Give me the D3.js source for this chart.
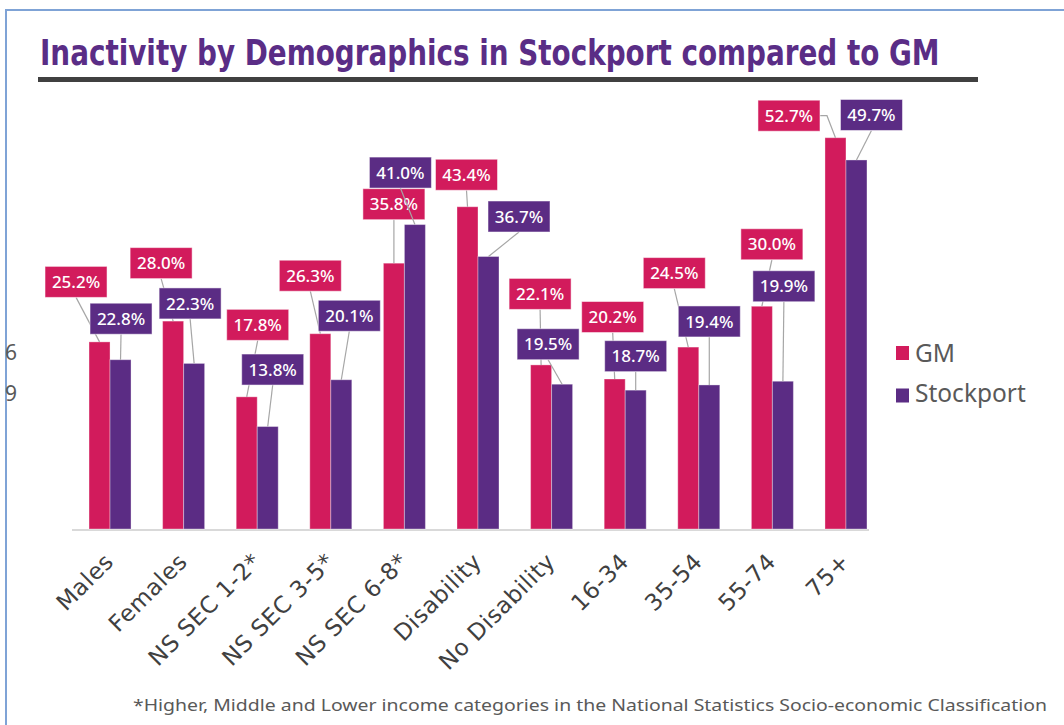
<!DOCTYPE html>
<html>
<head>
<meta charset="utf-8">
<script src="https://cdn.jsdelivr.net/npm/d3@7"></script>
<style>
  body { margin: 0; background: #ffffff; }
  svg { display: block; }
</style>
</head>
<body>
<svg id="chart" width="1064" height="725"></svg>
<script>
// data
let categories = ["Males", "Females", "NS SEC 1-2*", "NS SEC 3-5*", "NS SEC 6-8*",
  "Disability", "No Disability", "16-34", "35-54", "55-74", "75+"]
let seriesNames = ["GM", "Stockport"]
let gmValues = [25.2, 28.0, 17.8, 26.3, 35.8, 43.4, 22.1, 20.2, 24.5, 30.0, 52.7]
let stockportValues = [22.8, 22.3, 13.8, 20.1, 41.0, 36.7, 19.5, 18.7, 19.4, 19.9, 49.7]
let titleText = "Inactivity by Demographics in Stockport compared to GM"
let footnote = "*Higher, Middle and Lower income categories in the National Statistics Socio-economic Classification"

// label box offsets from the top of each bar (labels were dragged by hand in the original)
let gmLabelOffsets = [[-23.5, -60], [-12, -58], [11, -72], [-10, -58], [0, -59],
  [-1, -32], [-1, -71], [-2, -62], [-14, -74], [10, -62], [-46.5, -22]]
let stLabelOffsets = [[0.5, -41], [-4, -60], [5, -57], [8, -64], [-14.5, -52],
  [30.5, -40], [-14, -40], [0, -34], [0, -63.5], [1, -95], [15, -45]]

let gmColor = "#d21b5c"
let stColor = "#5b2c84"
let titlePurple = "#5a2d86"
let darkTextColor = "#404040"
let greyText = "#595959"

let svg = d3.select("#chart")

// outer frame
svg.append("rect")
  .attr("x", 6)
  .attr("y", 10)
  .attr("width", 1100)
  .attr("height", 800)
  .style("fill", "none")
  .style("stroke", "#7fa3d6")
  .style("stroke-width", 2)

// title, squeezed horizontally to the width of the original condensed face
let titleG = svg.append("g")
let title = titleG.append("text")
  .attr("x", 0)
  .attr("y", 0)
  .text(titleText)
  .style("font-family", "'Liberation Sans Narrow', 'DejaVu Sans Condensed', 'Roboto Condensed', Roboto, sans-serif")
  .style("font-stretch", "condensed")
  .style("font-weight", "bold")
  .style("font-size", "36px")
  .style("fill", titlePurple)
let titleScale = 900 / title.node().getComputedTextLength()
titleG.attr("transform", "translate(40, 65) scale(" + titleScale + ", 1)")

svg.append("rect")
  .attr("x", 38)
  .attr("y", 77)
  .attr("width", 940)
  .attr("height", 5)
  .style("fill", "#404040")

// stray clipped tick text at left edge of the original
svg.append("text").attr("x", 5).attr("y", 360).text("6")
  .style("font-family", "'Noto Sans', sans-serif").style("font-size", "21px").style("fill", greyText)
svg.append("text").attr("x", 5).attr("y", 401).text("9")
  .style("font-family", "'Noto Sans', sans-serif").style("font-size", "21px").style("fill", greyText)

// scales
let x = d3.scaleBand()
  .domain(categories)
  .range([73.2, 882.8])
  .paddingInner(0.4293)
  .paddingOuter(0.215)

let xSeries = d3.scaleBand()
  .domain(seriesNames)
  .range([0, x.bandwidth()])

let y = d3.scaleLinear()
  .domain([0, 60])
  .range([529, 529 - 445.5])

let color = d3.scaleOrdinal()
  .domain(seriesNames)
  .range([gmColor, stColor])

let rows = []
for (let i = 0; i < categories.length; i++) {
  rows.push({cat: categories[i], series: "GM", value: gmValues[i], off: gmLabelOffsets[i]})
  rows.push({cat: categories[i], series: "Stockport", value: stockportValues[i], off: stLabelOffsets[i]})
}

// axis line
svg.append("line")
  .attr("x1", 72)
  .attr("x2", 869)
  .attr("y1", y(0) + 1)
  .attr("y2", y(0) + 1)
  .style("stroke", "#d9d9d9")
  .style("stroke-width", 2)

// bars
svg.append("g")
  .selectAll("rect")
  .data(rows)
  .enter()
  .append("rect")
  .attr("x", d => x(d.cat) + xSeries(d.series))
  .attr("y", d => y(d.value))
  .attr("width", xSeries.bandwidth())
  .attr("height", d => y(0) - y(d.value))
  .style("fill", d => color(d.series))
  .style("stroke", "rgba(255,255,255,0.35)")
  .style("stroke-width", 1)

// x labels
svg.append("g")
  .selectAll("text")
  .data(categories)
  .enter()
  .append("text")
  .attr("transform", d => "translate(" + (x(d) + x.bandwidth() / 2 + 5) + ", 563) rotate(-45)")
  .style("text-anchor", "end")
  .text(d => d)
  .style("font-family", "'DejaVu Sans', Verdana, sans-serif")
  .style("font-size", "23px")
  .style("letter-spacing", "0.6px")
  .style("fill", darkTextColor)

// data labels with leader lines, GM first then Stockport on top
let boxW = 62
let boxH = 31
seriesNames.forEach(function(s) {
  let g = svg.append("g")
  let data = rows.filter(d => d.series == s)
  data.forEach(function(d) {
    let ax = x(d.cat) + xSeries(d.series) + xSeries.bandwidth() / 2
    let ay = y(d.value)
    let cx = ax + d.off[0]
    let cy = ay + d.off[1]
    let left = cx - boxW / 2, right = cx + boxW / 2, bottom = cy + boxH / 2
    let pts
    if (ay - bottom < Math.abs(ax - cx) - boxW / 2) {
      if (ax > right) pts = [[right, cy], [right + 7, cy], [ax, ay]]
      else pts = [[left, cy], [left - 7, cy], [ax, ay]]
    } else {
      pts = [[cx, bottom], [ax, ay]]
    }
    g.append("path")
      .attr("d", d3.line()(pts))
      .style("fill", "none")
      .style("stroke", "#a6a6a6")
      .style("stroke-width", 1.2)
  })
  data.forEach(function(d) {
    let ax = x(d.cat) + xSeries(d.series) + xSeries.bandwidth() / 2
    let ay = y(d.value)
    let cx = ax + d.off[0]
    let cy = ay + d.off[1]
    g.append("rect")
      .attr("x", cx - boxW / 2)
      .attr("y", cy - boxH / 2)
      .attr("width", boxW)
      .attr("height", boxH)
      .style("fill", color(d.series))
      .style("stroke", "rgba(255,255,255,0.5)")
      .style("stroke-width", 1)
    g.append("text")
      .attr("x", cx)
      .attr("y", cy)
      .attr("dy", "0.36em")
      .style("text-anchor", "middle")
      .text(d.value.toFixed(1) + "%")
      .style("font-family", "'Noto Sans', 'Open Sans', sans-serif")
      .style("font-size", "17px")
      .style("font-weight", "500")
      .style("fill", "#ffffff")
  })
})

// legend
let legend = svg.append("g")
seriesNames.forEach(function(s, i) {
  legend.append("rect")
    .attr("x", 896)
    .attr("y", 346 + i * 42.5)
    .attr("width", 13)
    .attr("height", 14)
    .style("fill", color(s))
  legend.append("text")
    .attr("x", 915)
    .attr("y", 362 + i * 40)
    .text(s)
    .style("font-family", "'Noto Sans', sans-serif")
    .style("font-size", "24.5px")
    .style("fill", greyText)
})

// footnote
svg.append("text")
  .attr("x", 133)
  .attr("y", 711)
  .attr("textLength", 914)
  .attr("lengthAdjust", "spacingAndGlyphs")
  .text(footnote)
  .style("font-family", "'Noto Sans', 'Open Sans', sans-serif")
  .style("font-size", "17px")
  .style("fill", greyText)
</script>
</body>
</html>
